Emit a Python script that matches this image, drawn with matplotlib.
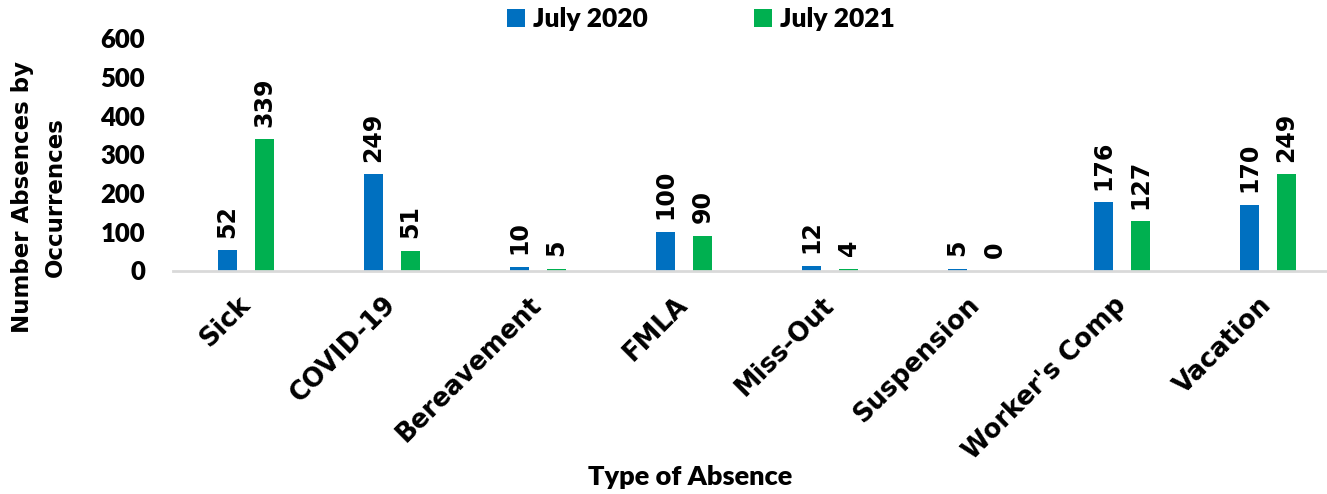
import numpy as np
import matplotlib
matplotlib.use("Agg")
import matplotlib.pyplot as plt

categories = ["Sick", "COVID-19", "Bereavement", "FMLA", "Miss-Out",
              "Suspension", "Worker's Comp", "Vacation"]
july_2020 = [52, 249, 10, 100, 12, 5, 176, 170]
july_2021 = [339, 51, 5, 90, 4, 0, 127, 249]
yticks = [0, 100, 200, 300, 400, 500, 600]

narrow = ["Liberation Sans Narrow", "Lato", "DejaVu Sans"]
wide = ["DejaVu Sans"]

fig = plt.figure(figsize=(13.27, 4.94), dpi=100)
ax = fig.add_axes([173 / 1327, 1 - 270.5 / 494, 1168 / 1327, 232 / 494])

x = np.arange(len(categories))
w = 0.13
b1 = ax.bar(x - 0.127, july_2020, w, color="#0070C0", label="July 2020")
b2 = ax.bar(x + 0.127, july_2021, w, color="#00B050", label="July 2021")

for bars in (b1, b2):
    ax.bar_label(bars, rotation=90, padding=9, fontsize=17,
                 fontweight="bold", family=wide)

ax.set_xlim(-0.5, 7.5)
ax.set_ylim(0, 600)
ax.set_yticks(yticks)
ax.set_yticklabels([str(v) for v in yticks], fontsize=18.5, fontweight="heavy",
                   family=narrow)
ax.tick_params(axis="y", length=0, pad=20)
ax.set_xticks(x)
ax.set_xticklabels(categories, rotation=45, ha="right", va="center",
                   rotation_mode="anchor", fontsize=18.5, fontweight="bold",
                   family=wide)
ax.tick_params(axis="x", length=0, pad=22)

for s in ["top", "right", "left"]:
    ax.spines[s].set_visible(False)
ax.spines["bottom"].set_color("#d9d9d9")
ax.spines["bottom"].set_linewidth(2)

fig.text(39 / 1327, 1 - 197 / 494, "Number Absences by\nOccurrences",
         rotation=90, ha="center", va="center", fontsize=16.5,
         fontweight="bold", family=wide, linespacing=1.5)
fig.text(690 / 1327, 1 - 477 / 494, "Type of Absence", ha="center",
         va="center", fontsize=19.5, fontweight="heavy", family=narrow)

fig.legend(handles=[b1, b2], loc="center", bbox_to_anchor=(701 / 1327, 1 - 19 / 494),
           ncol=2, frameon=False, handlelength=0.7, handleheight=0.7,
           handletextpad=0.3, columnspacing=4.0,
           prop={"family": narrow, "weight": "heavy", "size": 19})

fig.savefig("out.png", dpi=100)
